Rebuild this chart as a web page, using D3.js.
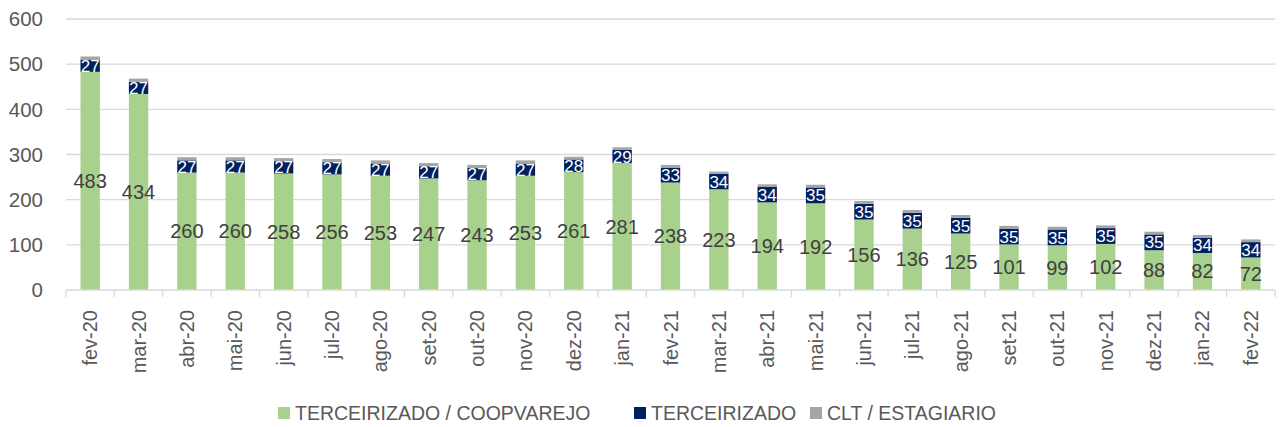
<!DOCTYPE html>
<html>
<head>
<meta charset="utf-8">
<script src="https://cdn.jsdelivr.net/npm/d3@7"></script>
<style>
  body { margin: 0; background: #fff; }
  svg { font-family: "Liberation Sans", Arial, sans-serif; }
</style>
</head>
<body>
<svg id="chart" width="1281" height="427"></svg>
<script>
// months on the x axis
const months = ["fev-20","mar-20","abr-20","mai-20","jun-20","jul-20","ago-20","set-20","out-20","nov-20","dez-20",
                "jan-21","fev-21","mar-21","abr-21","mai-21","jun-21","jul-21","ago-21","set-21","out-21","nov-21","dez-21",
                "jan-22","fev-22"];

// series values
const coopvarejo = [483,434,260,260,258,256,253,247,243,253,261,281,238,223,194,192,156,136,125,101,99,102,88,82,72];
const terceirizado = [27,27,27,27,27,27,27,27,27,27,28,29,33,34,34,35,35,35,35,35,35,35,35,34,34];
const clt = [7,7,7,7,7,7,7,7,7,7,6,6,6,5,6,6,6,6,6,6,6,6,6,6,6];

const yTicks = [0,100,200,300,400,500,600];

const seriesNames = ["TERCEIRIZADO / COOPVAREJO", "TERCEIRIZADO", "CLT / ESTAGIARIO"];
const seriesColors = ["#a9d18e", "#002060", "#a5a5a5"];

const margin = {left: 66, right: 6, top: 19, bottom: 137};
const W = 1281, H = 427;
const width = W - margin.left - margin.right;
const height = H - margin.top - margin.bottom;

const rows = months.map((m, i) => ({month: m, a: coopvarejo[i], b: terceirizado[i], c: clt[i]}));
const stacked = d3.stack().keys(["a","b","c"])(rows);

const svg = d3.select("#chart");
const g = svg.append("g").attr("transform", `translate(${margin.left},${margin.top})`);

const x = d3.scaleBand().domain(months).range([0, width]).paddingInner(0.6).paddingOuter(0.3);
const xb = d3.scaleBand().domain(months).range([0, width]);   // category slots, for tick marks
const y = d3.scaleLinear().domain([0, 600]).range([height, 0]);

// gridlines
g.append("g").selectAll("line").data(yTicks.filter(d => d > 0)).join("line")
  .attr("x1", 0).attr("x2", width)
  .attr("y1", d => y(d)).attr("y2", d => y(d))
  .attr("stroke", "#d9d9d9").attr("stroke-width", 1.3);

// y axis labels
g.append("g").selectAll("text").data(yTicks).join("text")
  .attr("x", -23).attr("y", d => y(d)).attr("dy", "0.35em")
  .attr("text-anchor", "end").attr("font-size", 20.5).attr("fill", "#595959")
  .text(d => d);

// bars
g.append("g").selectAll("g").data(stacked).join("g")
  .attr("fill", (d, i) => seriesColors[i])
  .selectAll("rect").data(d => d).join("rect")
  .attr("x", d => x(d.data.month))
  .attr("width", x.bandwidth())
  .attr("y", d => y(d[1]))
  .attr("height", d => y(d[0]) - y(d[1]));

// x axis line + category ticks
g.append("line").attr("x1", 0).attr("x2", width).attr("y1", height).attr("y2", height)
  .attr("stroke", "#d9d9d9").attr("stroke-width", 1.3);
g.append("g").selectAll("line").data(months.concat(["_end"])).join("line")
  .attr("x1", (d, i) => i * xb.step()).attr("x2", (d, i) => i * xb.step())
  .attr("y1", height).attr("y2", height + 7)
  .attr("stroke", "#d9d9d9").attr("stroke-width", 1.3);

// x labels, rotated
g.append("g").selectAll("text").data(months).join("text")
  .attr("transform", d => `translate(${x(d) + x.bandwidth() / 2},${height + 20}) rotate(-90)`)
  .attr("text-anchor", "end").attr("dy", "0.35em")
  .attr("font-size", 20).attr("fill", "#595959")
  .text(d => d);

// value labels - green
g.append("g").selectAll("text").data(stacked[0]).join("text")
  .attr("x", d => x(d.data.month) + x.bandwidth() / 2)
  .attr("y", d => (y(d[0]) + y(d[1])) / 2).attr("dy", "0.35em")
  .attr("text-anchor", "middle").attr("font-size", 20).attr("fill", "#404040")
  .text(d => d.data.a);

// value labels - navy
g.append("g").selectAll("text").data(stacked[1]).join("text")
  .attr("x", d => x(d.data.month) + x.bandwidth() / 2)
  .attr("y", d => (y(d[0]) + y(d[1])) / 2).attr("dy", "0.36em")
  .attr("text-anchor", "middle").attr("font-size", 17).attr("fill", "#ffffff")
  .text(d => d.data.b);

// legend
const legendX = [278, 634, 810];
const legend = svg.append("g").selectAll("g").data(seriesNames).join("g")
  .attr("transform", (d, i) => `translate(${legendX[i]},413)`);
legend.append("rect").attr("x", 0).attr("y", -6).attr("width", 12).attr("height", 12)
  .attr("fill", (d, i) => seriesColors[i]);
legend.append("text").attr("x", 17).attr("dy", "0.35em")
  .attr("font-size", 19.5).attr("fill", "#595959")
  .text(d => d);
</script>
</body>
</html>
